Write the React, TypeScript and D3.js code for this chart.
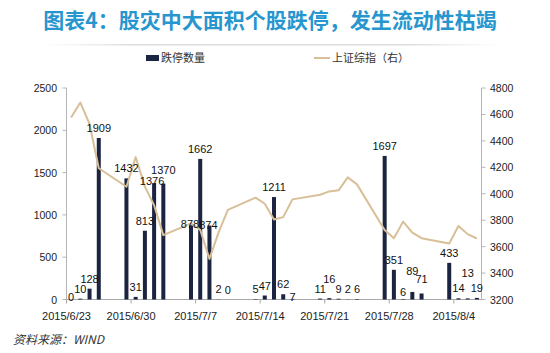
import React from "react";
import * as d3 from "d3";

const tradeDates = [
  "2015-06-23", "2015-06-24", "2015-06-25", "2015-06-26", "2015-06-29", "2015-06-30",
  "2015-07-01", "2015-07-02", "2015-07-03", "2015-07-06", "2015-07-07", "2015-07-08",
  "2015-07-09", "2015-07-10", "2015-07-13", "2015-07-14", "2015-07-15", "2015-07-16",
  "2015-07-17", "2015-07-20", "2015-07-21", "2015-07-22", "2015-07-23", "2015-07-24",
  "2015-07-27", "2015-07-28", "2015-07-29", "2015-07-30", "2015-07-31", "2015-08-03",
  "2015-08-04", "2015-08-05", "2015-08-06",
];

const limitDownCounts = [
  0, 10, 128, 1909, 1432, 31, 813, 1376, 1370, 878, 1662, 874, 2, 0, 5, 47, 1211, 62,
  7, 11, 16, 9, 2, 6, 1697, 351, 6, 89, 71, 433, 14, 13, 19,
];

const sseIndex = [
  4576.49, 4690.15, 4527.78, 4192.87, 4053.03, 4277.22, 4053.70, 3912.77, 3686.92,
  3775.91, 3727.12, 3507.19, 3709.33, 3877.80, 3970.39, 3924.49, 3805.70, 3823.18,
  3957.35, 3992.11, 4017.67, 4026.04, 4123.92, 4070.91, 3725.56, 3663.00, 3789.17,
  3705.77, 3663.73, 3622.91, 3756.54, 3694.57, 3661.54,
];

const xTickDates = ["2015-06-23", "2015-06-30", "2015-07-07", "2015-07-14", "2015-07-21", "2015-07-28", "2015-08-04"];
const xTickLabels = ["2015/6/23", "2015/6/30", "2015/7/7", "2015/7/14", "2015/7/21", "2015/7/28", "2015/8/4"];
const leftTicks = [0, 500, 1000, 1500, 2000, 2500];
const rightTicks = [3200, 3400, 3600, 3800, 4000, 4200, 4400, 4600, 4800];

const titleText = "图表4：股灾中大面积个股跌停，发生流动性枯竭";
const barLegend = "跌停数量";
const lineLegend = "上证综指（右）";
const sourceText = "资料来源：WIND";

// label position tweaks (style only): index -> [dx, dy]
const labelNudges: Record<number, [number, number]> = {
  0: [0, 7], 7: [-2, 8], 8: [0, -4], 9: [-1, 9], 11: [-1, 9], 18: [0, 8],
  20: [0, -9], 26: [0, 3], 27: [0, -11], 28: [0, -4], 31: [0, -15],
};

const parse = d3.timeParse("%Y-%m-%d");

export default function App() {
  const W = 550, H = 353;
  const left = 66.5, right = 481.5, top = 88, bottom = 299.5;
  const startDate = parse("2015-06-23")!;
  const endDate = parse("2015-08-07")!;
  const x = d3.scaleTime().domain([startDate, endDate]).range([left, right]);
  const yL = d3.scaleLinear().domain([0, 2500]).range([bottom, top]);
  const yR = d3.scaleLinear().domain([3200, 4800]).range([bottom, top]);
  const center = (s: string) => x(d3.timeHour.offset(parse(s)!, 12));
  const barW = 4;
  const font = "Arial, 'Liberation Sans', 'Noto Sans CJK SC', sans-serif";
  const cjk = "'Noto Sans CJK SC', 'Microsoft YaHei', sans-serif";

  const line = d3
    .line<number>()
    .x((_, i) => center(tradeDates[i]))
    .y((v) => yR(v));

  return (
    <svg
      width={W}
      height={H}
      style={{ position: "fixed", left: 0, top: 0, background: "#fff" }}
      fontFamily={font}
    >
      <defs>
        <linearGradient id="ul" x1="0" x2="1" y1="0" y2="0">
          <stop offset="0" stopColor="#e6e6e6" stopOpacity="0" />
          <stop offset="0.2" stopColor="#dcdcdc" />
          <stop offset="0.8" stopColor="#dcdcdc" />
          <stop offset="1" stopColor="#e6e6e6" stopOpacity="0" />
        </linearGradient>
      </defs>
      <rect width={W} height={H} fill="#fff" />
      <text
        x={270}
        y={28}
        textAnchor="middle"
        fontFamily={cjk}
        fontWeight={700}
        fontSize={21}
        fill="#2796cf"
      >
        {titleText}
      </text>
      <rect x={40} y={44} width={462} height={1.5} fill="url(#ul)" />

      {/* legend */}
      <rect x={146} y={55} width={13} height={6} fill="#1b2440" />
      <text x={161} y={62} fontSize={11} fontFamily={cjk} fill="#333">{barLegend}</text>
      <line x1={314} x2={330} y1={58} y2={58} stroke="#d8bf98" strokeWidth={2} />
      <text x={332} y={62} fontSize={11} fontFamily={cjk} fill="#333">{lineLegend}</text>

      {/* axes */}
      <line x1={left} x2={left} y1={top} y2={bottom} stroke="#b5b5b5" />
      <line x1={right} x2={right} y1={top} y2={bottom} stroke="#b5b5b5" />
      <line x1={left} x2={right} y1={bottom} y2={bottom} stroke="#a8a8a8" />
      {leftTicks.map((t) => (
        <g key={"l" + t}>
          <line x1={left - 4} x2={left} y1={yL(t)} y2={yL(t)} stroke="#b5b5b5" />
          <text x={57} y={yL(t) + 4} textAnchor="end" fontSize={10.5} fill="#222">{t}</text>
        </g>
      ))}
      {rightTicks.map((t) => (
        <g key={"r" + t}>
          <line x1={right} x2={right + 4} y1={yR(t)} y2={yR(t)} stroke="#b5b5b5" />
          <text x={490} y={yR(t) + 4} textAnchor="start" fontSize={10.5} fill="#222">{t}</text>
        </g>
      ))}
      {xTickDates.map((d, i) => (
        <g key={"x" + d}>
          <line x1={x(parse(d)!)} x2={x(parse(d)!)} y1={bottom} y2={bottom + 4} stroke="#a8a8a8" />
          <text x={x(parse(d)!)} y={320} textAnchor="middle" fontSize={11} fill="#222">
            {xTickLabels[i]}
          </text>
        </g>
      ))}

      {/* bars */}
      {limitDownCounts.map((v, i) => (
        <rect
          key={"b" + i}
          x={center(tradeDates[i]) - barW / 2}
          y={yL(v)}
          width={barW}
          height={bottom - yL(v)}
          fill="#1b2440"
        />
      ))}

      {/* line */}
      <path d={line(sseIndex) || ""} fill="none" stroke="#d8bf98" strokeWidth={2} strokeLinejoin="round" />

      {/* bar labels */}
      {limitDownCounts.map((v, i) => {
        const n = labelNudges[i] || [0, 0];
        return (
          <text
            key={"t" + i}
            x={center(tradeDates[i]) + n[0]}
            y={yL(v) - 6 + n[1]}
            textAnchor="middle"
            fontSize={11}
            fill="#111"
          >
            {v}
          </text>
        );
      })}

      <text x={13} y={344} fontSize={12} fontStyle="italic" fontFamily={cjk} fill="#333">
        {sourceText}
      </text>
    </svg>
  );
}
